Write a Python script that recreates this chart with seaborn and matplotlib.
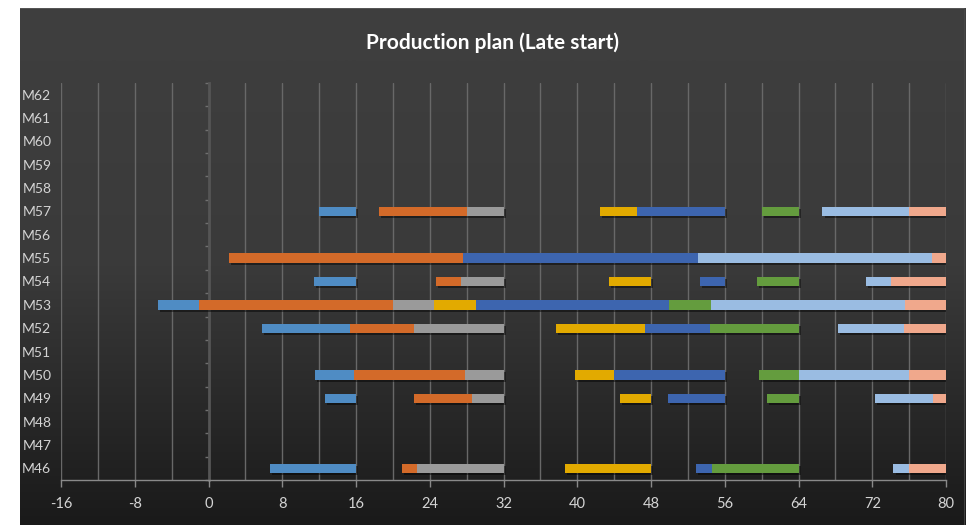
import numpy as np
import pandas as pd
import matplotlib
matplotlib.use("Agg")
import matplotlib.pyplot as plt
import matplotlib.patheffects as pe
from matplotlib.colors import LinearSegmentedColormap
import seaborn as sns

# ---------------- data ----------------
machines = ["M46", "M47", "M48", "M49", "M50", "M51", "M52", "M53", "M54",
            "M55", "M56", "M57", "M58", "M59", "M60", "M61", "M62"]
rows = ["M46", "M49", "M50", "M52", "M53", "M54", "M55", "M57"]

op1_start = [6.7, 12.6, 11.5, 5.8, -5.5, 11.4, None, 12.0]
op1_end   = [16.0, 16.0, 15.8, 15.4, -1.0, 16.0, None, 16.0]
op2_start = [21.0, 22.3, 15.8, 15.4, -1.0, 24.7, 2.2, 18.5]
op2_end   = [22.6, 28.6, 27.8, 22.3, 20.0, 27.4, 27.6, 28.0]
op3_start = [22.6, 28.6, 27.8, 22.3, 20.0, 27.4, None, 28.0]
op3_end   = [32.0, 32.0, 32.0, 32.0, 24.5, 32.0, None, 32.0]
op4_start = [38.7, 44.6, 39.8, 37.7, 24.5, 43.4, None, 42.5]
op4_end   = [48.0, 48.0, 44.0, 47.4, 29.0, 48.0, None, 46.5]
op5_start = [52.9, 49.8, 44.0, 47.4, 29.0, 53.3, 27.6, 46.5]
op5_end   = [54.6, 56.0, 56.0, 54.4, 49.9, 56.0, 53.1, 56.0]
op6_start = [54.6, 60.6, 59.7, 54.4, 49.9, 59.5, None, 60.0]
op6_end   = [64.0, 64.0, 64.0, 64.0, 54.5, 64.0, None, 64.0]
op7_start = [74.3, 72.3, 64.0, 68.3, 54.5, 71.3, 53.1, 66.6]
op7_end   = [76.0, 78.6, 76.0, 75.4, 75.5, 74.0, 78.5, 76.0]
op8_start = [76.0, 78.6, 76.0, 75.4, 75.5, 74.0, 78.5, 76.0]
op8_end   = [80.0, 80.0, 80.0, 80.0, 80.0, 80.0, 80.0, 80.0]

x_ticks = [-16, -8, 0, 8, 16, 24, 32, 40, 48, 56, 64, 72, 80]
title = "Production plan (Late start)"

series = [
    (op1_start, op1_end, "#4F8CC4"),
    (op2_start, op2_end, "#D36A29"),
    (op3_start, op3_end, "#9A9A9A"),
    (op4_start, op4_end, "#E2AA00"),
    (op5_start, op5_end, "#3D65AF"),
    (op6_start, op6_end, "#649C3E"),
    (op7_start, op7_end, "#9ABCE2"),
    (op8_start, op8_end, "#F0A88C"),
]

# ---------------- style ----------------
sns.set_theme(style="dark")
font_list = ["Liberation Sans Narrow", "Lato", "DejaVu Sans"]
plt.rcParams["font.family"] = font_list

W, H = 972, 525
fig = plt.figure(figsize=(W / 100, H / 100), dpi=100)
fig.patch.set_facecolor("white")

# background panel with vertical gradient
bg = fig.add_axes([20 / W, 0, (965 - 20) / W, 1 - 8 / H])
grad = np.linspace(0, 1, 256).reshape(-1, 1)
cmap = LinearSegmentedColormap.from_list("g", ["#3f3f3f", "#3a3a3a", "#1a1a1a"])
bg.imshow(grad, aspect="auto", cmap=cmap, extent=[0, 1, 0, 1], origin="upper")
bg.set_axis_off()
bg.add_line(plt.Line2D([0, 1], [1, 1], transform=bg.transAxes, color="#5a5a5a", lw=1.2))
bg.add_line(plt.Line2D([1, 1], [0, 1], transform=bg.transAxes, color="#4a4a4a", lw=1.2))

ax = fig.add_axes([61 / W, 1 - 480 / H, (946 - 61) / W, (480 - 83) / H])
ax.set_facecolor("none")

ypos = {m: i for i, m in enumerate(machines)}
shadow = [pe.SimplePatchShadow(offset=(1.5, -1.5), shadow_rgbFace="black", alpha=0.45), pe.Normal()]
for starts, ends, color in series:
    ys, lefts, widths = [], [], []
    for m, s, e in zip(rows, starts, ends):
        if s is None:
            continue
        ys.append(ypos[m]); lefts.append(s); widths.append(e - s)
    bars = ax.barh(ys, widths, left=lefts, height=0.4, color=color, edgecolor="none", zorder=3)
    for b in bars:
        b.set_path_effects(shadow)

ax.set_xlim(-16, 80)
ax.set_ylim(-0.5, len(machines) - 0.5)
ax.set_xticks(x_ticks)
ax.set_xticklabels([str(t) for t in x_ticks])
ax.set_yticks(range(len(machines)))
ax.set_yticklabels(machines)

ax.grid(False)
for xv in np.arange(-16, 81, 4):
    if xv == 0:
        continue
    ax.axvline(xv, color="#686868", lw=1.0, zorder=1)

for s in ["top", "right", "left"]:
    ax.spines[s].set_visible(False)
ax.spines["bottom"].set_color("#8a8a8a")
ax.spines["bottom"].set_linewidth(1.0)

ax.tick_params(axis="x", which="major", length=5, width=1, color="#8a8a8a",
               labelsize=10.5, pad=7, direction="out", bottom=True)
ax.tick_params(axis="y", which="both", length=0, labelsize=10, pad=7)
for lbl in ax.get_xticklabels() + ax.get_yticklabels():
    lbl.set_color("#d4d4d4")

# vertical axis line at x = 0 with category boundary ticks
sec = ax.secondary_yaxis(16 / 96)
sec.set_yticks([])
sec.set_yticks(np.arange(-0.5, len(machines) + 0.5, 1), minor=True)
sec.tick_params(axis="y", which="minor", length=3, width=1, color="#707070", direction="out")
sec.spines["left"].set_color("#555555")
sec.spines["left"].set_linewidth(2)

fig.text(492 / W, 1 - 43 / H, title, ha="center", va="center",
         color="white", fontsize=15, fontweight="bold", family=font_list)

fig.savefig("out.png", dpi=100, facecolor=fig.get_facecolor())
